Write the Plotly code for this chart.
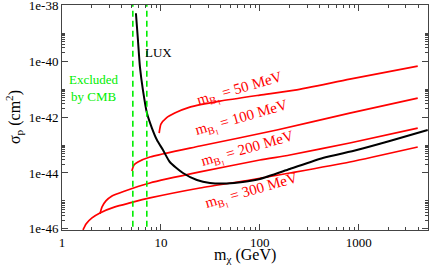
import plotly.graph_objects as go

# ---- data ----
m300_x = [1.63, 1.75, 2.01, 2.42, 3.43, 4.86, 7.74, 24.8, 79.3, 201, 811, 3945]
m300_y = [9.2e-47, 1.51e-46, 2.47e-46, 3.72e-46, 6.11e-46, 8.49e-46, 1.28e-45, 2.91e-45, 5.62e-45, 1.0e-44, 2.47e-44, 8.49e-44]

m200_x = [2.42, 2.54, 2.78, 3.20, 4.33, 7.74, 24.8, 100, 201, 811, 3945]
m200_y = [3.44e-46, 6.11e-46, 1.0e-45, 1.51e-45, 2.28e-45, 4.40e-45, 1.09e-44, 2.91e-44, 4.40e-44, 1.18e-43, 4.05e-43]

m100_x = [5.09, 5.34, 5.86, 7.74, 24.8, 148.5, 811, 3945]
m100_y = [1.18e-44, 1.93e-44, 2.47e-44, 3.72e-44, 9.21e-44, 3.44e-43, 1.39e-42, 4.77e-42]

m50_x = [9.6, 10.0, 11.3, 13.8, 19.6, 39.4, 100, 226, 811, 3945]
m50_y = [2.68e-43, 5.62e-43, 9.21e-43, 1.39e-42, 2.28e-42, 3.72e-42, 6.11e-42, 9.21e-42, 2.28e-41, 6.62e-41]

lux_x = [5.59, 5.86, 6.14, 6.58, 7.22, 8.11, 9.12, 10.5, 12.3, 16.7, 23.1, 31.3, 46.4, 67.3, 100, 201, 433, 955, 2056, 4977]
lux_y = [5.18e-39, 5.62e-40, 6.11e-41, 9.21e-42, 1.39e-42, 4.05e-43, 1.51e-43, 6.62e-44, 2.47e-44, 1.0e-44, 5.62e-45, 4.40e-45, 4.22e-45, 4.77e-45, 6.11e-45, 1.39e-44, 3.44e-44, 6.62e-44, 1.39e-43, 3.44e-43]

cmb_x = [5.2, 7.2]

x_ticks = [1, 10, 100, 1000]
x_ticktext = ["1", "10", "100", "1000"]
y_ticks = [1e-46, 1e-44, 1e-42, 1e-40, 1e-38]
y_ticktext = ["1e-46", "1e-44", "1e-42", "1e-40", "1e-38"]

labels = ["50", "100", "200", "300"]

# ---- layout geometry (pixels) ----
W, H = 430, 269
ML, MR, MT, MB = 62, 2, 5, 39
PW, PH = W - ML - MR, H - MT - MB


def px(x, y):
    """pixel position -> paper coords"""
    return (x - ML) / PW, 1 - (y - MT) / PH


label_centers = [(240, 90), (242, 119), (248, 150), (252, 192)]

FONT = "Liberation Serif"
RED = "#ff0000"
GREEN = "#00ee00"
AX = "#444444"

fig = go.Figure()
for xs, ys in [(m300_x, m300_y), (m200_x, m200_y), (m100_x, m100_y), (m50_x, m50_y)]:
    fig.add_trace(go.Scatter(x=xs, y=ys, mode="lines",
                             line=dict(color=RED, width=1.7, shape="spline", smoothing=0.6),
                             showlegend=False, hoverinfo="skip"))
fig.add_trace(go.Scatter(x=lux_x, y=lux_y, mode="lines",
                         line=dict(color="black", width=2, shape="spline", smoothing=0.6),
                         showlegend=False, hoverinfo="skip"))
for cx in cmb_x:
    fig.add_trace(go.Scatter(x=[cx, cx], y=[1e-47, 1e-37], mode="lines",
                             line=dict(color=GREEN, width=1.6, dash="6px,4px"),
                             showlegend=False, hoverinfo="skip"))


def note(x, y, text, size, color, angle=0):
    ax_, ay_ = px(x, y)
    fig.add_annotation(x=ax_, y=ay_, xref="paper", yref="paper", text=text, showarrow=False,
                       xanchor="center", yanchor="middle", textangle=angle,
                       font=dict(family=FONT, size=size, color=color))


for lab, (cx, cy) in zip(labels, label_centers):
    note(cx, cy, f"m<sub>B<sub>1</sub></sub> = {lab} MeV", 15, RED, -16)

note(158, 52, "LUX", 13, "black")
note(94, 88, "Excluded<br>by CMB", 13, GREEN)
note(245, 255, "m<sub>χ</sub> (GeV)", 16, "black")
note(14, 117, "σ<sub>p</sub> (cm<sup>2</sup>)", 16, "black", -90)

axis_common = dict(showline=True, linecolor=AX, linewidth=1, mirror="allticks",
                   ticks="inside", tickcolor=AX, ticklen=6, tickwidth=1,
                   showgrid=False, zeroline=False, automargin=False,
                   ticklabeloverflow="allow",
                   tickfont=dict(family=FONT, size=13, color="black"))

fig.update_layout(
    width=W, height=H,
    margin=dict(l=ML, r=MR, t=MT, b=MB),
    paper_bgcolor="white", plot_bgcolor="white",
    font=dict(family=FONT),
    xaxis=dict(type="log", range=[0, 3.7], tickmode="array", tickvals=x_ticks, ticktext=x_ticktext,
               minor=dict(ticks="inside", ticklen=3, tickcolor=AX, tickmode="array",
                          tickvals=[m * d for d in x_ticks for m in range(2, 10)]),
               **axis_common),
    yaxis=dict(type="log", range=[-46.04, -37.99], tickmode="array", tickvals=y_ticks, ticktext=y_ticktext,
               minor=dict(ticks="inside", ticklen=3, tickcolor=AX, tickmode="array",
                          tickvals=[m * d for d in y_ticks[:-1] for m in range(2, 11)]),
               **axis_common),
)

fig.write_html("out.html", config={"displayModeBar": False},
               post_script="document.body.style.margin='0';document.body.style.padding='0';")
